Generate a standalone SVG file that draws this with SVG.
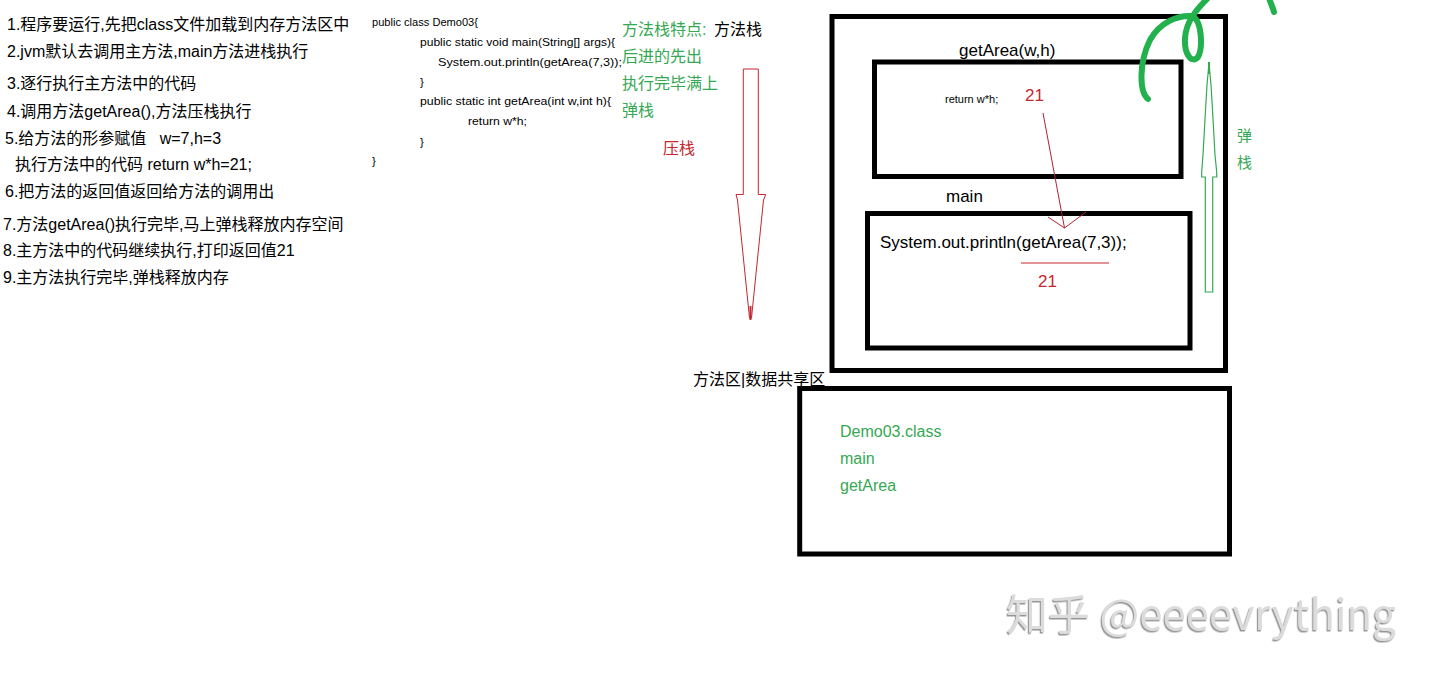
<svg xmlns="http://www.w3.org/2000/svg" width="1434" height="676" viewBox="0 0 1434 676">
<defs>
<style>
.t{font-family:"Liberation Sans","Noto Sans CJK SC",sans-serif;fill:#000}
.note{font-size:16px}
.code{font-size:11.5px}
.g{fill:#35a853}
.r{fill:#c3272f}
.box{fill:none;stroke:#000;stroke-width:5}
.big{font-size:17px}
</style>
<filter id="emb" x="-5%" y="-20%" width="110%" height="140%">
<feDropShadow dx="-1.2" dy="1.5" stdDeviation="0.6" flood-color="#8a8a8a" flood-opacity="0.9"/>
</filter>
</defs>
<rect width="1434" height="676" fill="#fff"/>

<g id="steps" class="t note">
<text x="7" y="30">1.程序要运行,先把class文件加载到内存方法区中</text>
<text x="7" y="57">2.jvm默认去调用主方法,main方法进栈执行</text>
<text x="7" y="89">3.逐行执行主方法中的代码</text>
<text x="7" y="117">4.调用方法getArea(),方法压栈执行</text>
<text x="5" y="144" xml:space="preserve" style="white-space:pre">5.给方法的形参赋值   w=7,h=3</text>
<text x="15" y="170">执行方法中的代码 return w*h=21;</text>
<text x="5" y="197">6.把方法的返回值返回给方法的调用出</text>
<text x="3" y="230">7.方法getArea()执行完毕,马上弹栈释放内存空间</text>
<text x="3" y="256">8.主方法中的代码继续执行,打印返回值21</text>
<text x="3" y="283">9.主方法执行完毕,弹栈释放内存</text>
</g>

<g id="code" class="t code">
<text x="372" y="26" textLength="106" lengthAdjust="spacingAndGlyphs">public class Demo03{</text>
<text x="420" y="46" textLength="195" lengthAdjust="spacingAndGlyphs">public static void main(String[] args){</text>
<text x="438" y="66" textLength="184" lengthAdjust="spacingAndGlyphs">System.out.println(getArea(7,3));</text>
<text x="420" y="86">}</text>
<text x="420" y="105" textLength="191" lengthAdjust="spacingAndGlyphs">public static int getArea(int w,int h){</text>
<text x="468" y="125" textLength="59" lengthAdjust="spacingAndGlyphs">return w*h;</text>
<text x="420" y="146">}</text>
<text x="372" y="165">}</text>
</g>

<g id="stack-notes" class="t note">
<text x="622" y="35" class="g">方法栈特点:</text>
<text x="714" y="35">方法栈</text>
<text x="622" y="62" class="g">后进的先出</text>
<text x="622" y="89" class="g">执行完毕满上</text>
<text x="622" y="116" class="g">弹栈</text>
<text x="663" y="154" class="r">压栈</text>
</g>

<g id="method-stack">
<rect class="box" x="832" y="16.5" width="393.5" height="354"/>
</g>

<g id="getArea-frame">
<rect class="box" x="874.5" y="62" width="306.5" height="114.5"/>
<text class="t big" x="959" y="56">getArea(w,h)</text>
<text class="t" font-size="11" x="945" y="103">return w*h;</text>
<text class="t big r" x="1025" y="101">21</text>
</g>

<g id="main-frame">
<rect class="box" x="867.5" y="213.5" width="322.5" height="134.5"/>
<text class="t big" x="946" y="202">main</text>
<text class="t big" x="880" y="248">System.out.println(getArea(7,3));</text>
<line x1="1021" y1="263" x2="1109" y2="263" stroke="#c3272f" stroke-width="1"/>
<text class="t big r" x="1038" y="287">21</text>
</g>

<g id="pop-label" class="t g" font-size="15">
<text x="1237" y="141">弹</text>
<text x="1237" y="168">栈</text>
</g>

<g id="method-area">
<text class="t" font-size="16" x="693" y="385">方法区|数据共享区</text>
<rect class="box" x="799.7" y="388.5" width="429.8" height="165.5"/>
<text class="t g" font-size="16" x="840" y="437">Demo03.class</text>
<text class="t g" font-size="16" x="840" y="464">main</text>
<text class="t g" font-size="16" x="840" y="491">getArea</text>
</g>

<g id="connectors">
<polygon points="743.3,69 758.3,69 758.3,194.5 765.7,194.5 763.5,200 751.5,318 749.5,318 737.5,200 736,194.5 743.3,194.5" fill="none" stroke="#c3272f" stroke-width="1"/>
<line x1="750.5" y1="306" x2="750.5" y2="320" stroke="#c3272f" stroke-width="2"/>
<polygon points="1209,63 1211,85 1212.5,110 1214,137 1215,155 1216.7,172 1216.7,177 1212.7,177 1212.7,292 1205.3,292 1205.3,177 1201.7,177 1201.7,172 1203,155 1204,137 1205.5,110 1207,85" fill="none" stroke="#35a853" stroke-width="1.2"/>
<line x1="1209" y1="62" x2="1209" y2="74" stroke="#35a853" stroke-width="2"/>
<line x1="1043" y1="113" x2="1064.5" y2="228" stroke="#b22234" stroke-width="1"/>
<polyline points="1048,217 1064.5,228 1086,212" fill="none" stroke="#b22234" stroke-width="1"/>
</g>

<g id="scribble" fill="none" stroke="#22b14c" stroke-width="6" stroke-linecap="round" stroke-linejoin="round">
<path d="M1148,99 C1139,92 1139,62 1150,40 C1160,22 1178,15 1192,16 C1202,20 1203,48 1198,57 C1192,64 1184,55 1185,38 C1186,22 1196,10 1208,-2"/>
<path d="M1269,-2 C1271,4 1273,8 1274,12"/>
</g>

<g id="watermark">
<text x="1006" y="630" font-family="'Noto Sans CJK SC','Noto Sans',sans-serif" font-size="42" fill="#dcdcdc" filter="url(#emb)">知乎 @eeeevrything</text>
</g>
</svg>
